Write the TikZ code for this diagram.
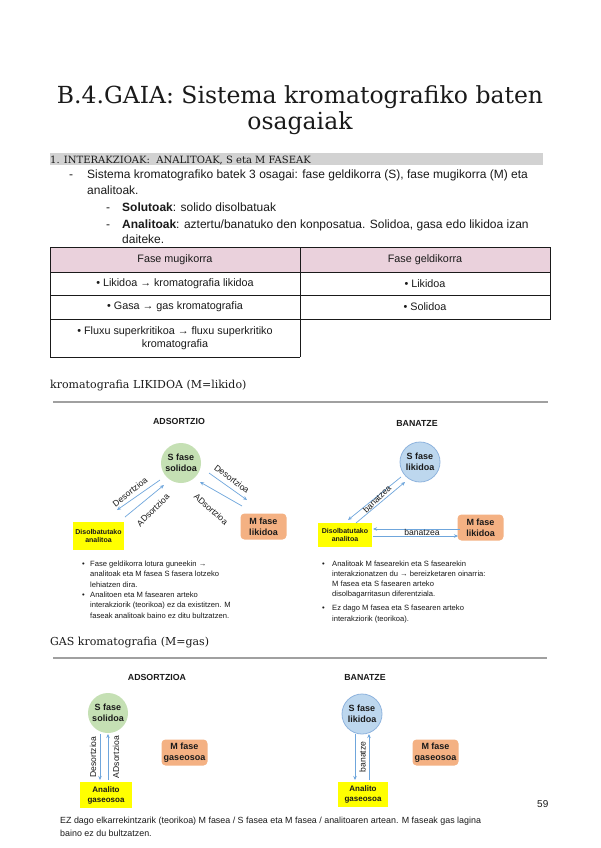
\documentclass[tikz,border=0pt]{standalone}
\usepackage{fontspec}
\setmainfont{Liberation Sans}
\newfontfamily\headfont{DejaVu Serif}
\usetikzlibrary{arrows.meta}
\definecolor{pageink}{HTML}{1A1A1A}
\definecolor{bargray}{HTML}{D2D2D2}
\definecolor{tablepink}{HTML}{EAD1DC}
\definecolor{rulegray}{HTML}{A0A0A0}
\definecolor{phasegreen}{HTML}{C5E0B4}
\definecolor{phaseblue}{HTML}{BDD7EE}
\definecolor{phaseblueline}{HTML}{8FB4DE}
\definecolor{phaseorange}{HTML}{F4B183}
\definecolor{analyteyellow}{HTML}{FFFF00}
\definecolor{flowblue}{HTML}{6FA6DC}

\begin{document}
\begin{tikzpicture}[
  x=1pt,
  y=-1pt,
  every node/.style={pageink},
  title/.style={font=\headfont\fontsize{23.5}{28}\selectfont, anchor=base, inner sep=0pt},
  section/.style={font=\headfont\fontsize{10}{12}\selectfont, anchor=base west, inner sep=0pt},
  heading/.style={font=\headfont\fontsize{11}{14}\selectfont, anchor=base west, inner sep=0pt},
  body/.style={font=\fontsize{12}{14}\selectfont, anchor=base west, inner sep=0pt},
  cell/.style={font=\fontsize{10.8}{12.5}\selectfont, align=center, inner sep=0pt},
  grid/.style={pageink, line width=0.8pt},
  rule/.style={rulegray, line width=1.3pt},
  dtitle/.style={font=\bfseries\fontsize{8.8}{10}\selectfont, inner sep=0pt},
  sphase/.style={circle, minimum size=40pt, inner sep=0pt, align=center,
                 font=\bfseries\fontsize{9}{11}\selectfont},
  solidphase/.style={sphase, fill=phasegreen},
  liquidphase/.style={sphase, fill=phaseblue, draw=phaseblueline, line width=0.8pt},
  mphase/.style={fill=phaseorange, rounded corners=4pt, align=center, inner sep=0pt,
                 minimum width=46pt, minimum height=26pt,
                 font=\bfseries\fontsize{9}{11}\selectfont},
  analyte/.style={fill=analyteyellow, align=center, inner sep=0pt,
                  font=\bfseries\fontsize{7}{8.5}\selectfont},
  flow/.style={flowblue, line width=0.7pt, -{Stealth[length=4pt, width=3.5pt]}},
  flowlabel/.style={font=\fontsize{8.6}{10}\selectfont, inner sep=0pt},
  note/.style={font=\fontsize{7.6}{10}\selectfont, anchor=base west, inner sep=0pt}
]
  % ---- page ------------------------------------------------------------
  \fill[white] (0,0) rectangle (600,848);
  \useasboundingbox (0,0) rectangle (600,848);

  % ---- title -----------------------------------------------------------
  \node[title] (title1) at (300,103) {B.4.GAIA: Sistema kromatografiko baten};
  \node[title] (title2) at (300,129) {osagaiak};

  % ---- section bar -----------------------------------------------------
  \fill[bargray] (50,153) rectangle (543,165);
  \node[section] (sec1) at (50,163) {1. INTERAKZIOAK:\ \ ANALITOAK, S eta M FASEAK};

  % ---- bullet text -----------------------------------------------------
  \node[body] (dash1) at (69,178) {-};
  \node[body] (line1) at (87,178)
    {Sistema kromatografiko batek 3 osagai: fase geldikorra (S), fase mugikorra (M) eta};
  \node[body] (line2) at (87,194) {analitoak.};
  \node[body] (dash2) at (106,211) {-};
  \node[body] (line3) at (122,211) {\textbf{Solutoak}: solido disolbatuak};
  \node[body] (dash3) at (106,228) {-};
  \node[body] (line4) at (122,228)
    {\textbf{Analitoak}: aztertu/banatuko den konposatua. Solidoa, gasa edo likidoa izan};
  \node[body] (line5) at (122,243) {daiteke.};

  % ---- table -----------------------------------------------------------
  \fill[tablepink] (50,247) rectangle (550,272);
  \draw[grid] (50,247) rectangle (550,319);
  \draw[grid] (50,272) -- (550,272);
  \draw[grid] (50,295) -- (550,295);
  \draw[grid] (50,319) -- (50,357) -- (300,357);
  \draw[grid] (300,247) -- (300,357);
  \node[cell] (head1) at (175,260) {Fase mugikorra};
  \node[cell] (head2) at (425,260) {Fase geldikorra};
  \node[cell] (cell11) at (175,284) {• Likidoa → kromatografia likidoa};
  \node[cell] (cell12) at (425,284) {• Likidoa};
  \node[cell] (cell21) at (175,307) {• Gasa → gas kromatografia};
  \node[cell] (cell22) at (425,307) {• Solidoa};
  \node[cell] (cell31) at (175,338) {• Fluxu superkritikoa → fluxu superkritiko\\kromatografia};

  % ---- liquid chromatography ------------------------------------------
  \node[heading] (liqhead) at (50,388) {kromatografia LIKIDOA (M=likido)};
  \draw[rule] (53,402) -- (548,402);

  % adsorption, liquid
  \node[dtitle] (adsliq) at (179,421) {ADSORTZIO};
  \node[solidphase] (s1) at (181,463) {S fase\\solidoa};
  \node[analyte, minimum width=51pt, minimum height=28pt] (d1) at (98.5,536)
    {Disolbatutako\\analitoa};
  \node[mphase] (m1) at (263.5,526.5) {M fase\\likidoa};
  \coordinate (des1a) at (160,480);
  \coordinate (des1b) at (117,510);
  \coordinate (ads1a) at (125,517);
  \coordinate (ads1b) at (164,485);
  \coordinate (des2a) at (209,473);
  \coordinate (des2b) at (247,500);
  \coordinate (ads2a) at (242,506);
  \coordinate (ads2b) at (200,482);
  \draw[flow] (des1a) -- (des1b);
  \draw[flow] (ads1a) -- (ads1b);
  \draw[flow] (des2a) -- (des2b);
  \draw[flow] (ads2a) -- (ads2b);
  \node[flowlabel, rotate=38] (ldes1) at (130,492) {Desortzioa};
  \node[flowlabel, rotate=45] (lads1) at (153,510) {ADsortzioa};
  \node[flowlabel, rotate=-37] (ldes2) at (232,479) {Desortzioa};
  \node[flowlabel, rotate=-42] (lads2) at (211,509) {ADsortzioa};

  % partition, liquid
  \node[dtitle] (banliq) at (417,423) {BANATZE};
  \node[liquidphase] (s2) at (420,462) {S fase\\likidoa};
  \node[analyte, minimum width=54pt, minimum height=24pt] (d2) at (345,535)
    {Disolbatutako\\analitoa};
  \node[mphase] (m2) at (480.5,527.5) {M fase\\likidoa};
  \coordinate (ban1a) at (401,477);
  \coordinate (ban1b) at (348,520);
  \coordinate (ban2a) at (356,523);
  \coordinate (ban2b) at (405,482);
  \coordinate (ban3a) at (460,529);
  \coordinate (ban3b) at (373,529);
  \coordinate (ban4a) at (373,536);
  \coordinate (ban4b) at (458,536);
  \draw[flow] (ban1a) -- (ban1b);
  \draw[flow] (ban2a) -- (ban2b);
  \draw[flow] (ban3a) -- (ban3b);
  \draw[flow] (ban4a) -- (ban4b);
  \node[flowlabel, rotate=45] (lban1) at (377,499) {banatzea};
  \node[flowlabel] (lban2) at (422,532.5) {banatzea};

  % ---- notes, liquid ---------------------------------------------------
  \node[note] (nl1) at (82,566) {•};
  \node[note] (nl2) at (90,566) {Fase geldikorra lotura guneekin →};
  \node[note] (nl3) at (90,576.5) {analitoak eta M fasea S fasera lotzeko};
  \node[note] (nl4) at (90,587) {lehiatzen dira.};
  \node[note] (nl5) at (82,597) {•};
  \node[note] (nl6) at (90,597) {Analitoen eta M fasearen arteko};
  \node[note] (nl7) at (90,607.5) {interakziorik (teorikoa) ez da existitzen. M};
  \node[note] (nl8) at (90,618) {faseak analitoak baino ez ditu bultzatzen.};

  \node[note] (nr1) at (322,566) {•};
  \node[note] (nr2) at (332,566) {Analitoak M fasearekin eta S fasearekin};
  \node[note] (nr3) at (332,576.5) {interakzionatzen du → bereizketaren oinarria:};
  \node[note] (nr4) at (332,586) {M fasea eta S fasearen arteko};
  \node[note] (nr5) at (332,596.5) {disolbagarritasun diferentziala.};
  \node[note] (nr6) at (322,610.5) {•};
  \node[note] (nr7) at (332,610.5) {Ez dago M fasea eta S fasearen arteko};
  \node[note] (nr8) at (332,621) {interakziorik (teorikoa).};

  % ---- gas chromatography ---------------------------------------------
  \node[heading] (gashead) at (50,645) {GAS kromatografia (M=gas)};
  \draw[rule] (53,658) -- (547,658);

  % adsorption, gas
  \node[dtitle] (adsgas) at (157,677) {ADSORTZIOA};
  \node[solidphase] (s3) at (108,713) {S fase\\solidoa};
  \node[analyte, minimum width=52pt, minimum height=26pt,
        font=\bfseries\fontsize{8}{10}\selectfont] (d3) at (106,795) {Analito\\gaseosoa};
  \node[mphase] (m3) at (184.5,752.5) {M fase\\gaseosoa};
  \coordinate (des3a) at (100,734);
  \coordinate (des3b) at (100,780);
  \coordinate (ads3a) at (108,780);
  \coordinate (ads3b) at (108,734);
  \draw[flow] (des3a) -- (des3b);
  \draw[flow] (ads3a) -- (ads3b);
  \node[flowlabel, rotate=90] (ldes3) at (93,757) {Desortzioa};
  \node[flowlabel, rotate=90] (lads3) at (116,757) {ADsortzioa};

  % partition, gas
  \node[dtitle] (bangas) at (365,677) {BANATZE};
  \node[liquidphase] (s4) at (362,714) {S fase\\likidoa};
  \node[analyte, minimum width=50pt, minimum height=25pt,
        font=\bfseries\fontsize{8}{10}\selectfont] (d4) at (363,794.5) {Analito\\gaseosoa};
  \node[mphase] (m4) at (435.5,752.5) {M fase\\gaseosoa};
  \coordinate (ban5a) at (355,734);
  \coordinate (ban5b) at (355,780);
  \coordinate (ban6a) at (369,780);
  \coordinate (ban6b) at (369,734);
  \draw[flow] (ban5a) -- (ban5b);
  \draw[flow] (ban6a) -- (ban6b);
  \node[flowlabel, rotate=90] (lban3) at (362.5,757) {banatze};

  % ---- footer ----------------------------------------------------------
  \node[body, font=\fontsize{10}{12}\selectfont] (pagenum) at (537,807) {59};
  \node[note, font=\fontsize{8.9}{11}\selectfont] (ng1) at (60,823)
    {EZ dago elkarrekintzarik (teorikoa) M fasea / S fasea eta M fasea / analitoaren artean. M faseak gas lagina};
  \node[note, font=\fontsize{8.9}{11}\selectfont] (ng2) at (60,836) {baino ez du bultzatzen.};

\end{tikzpicture}
\end{document}
